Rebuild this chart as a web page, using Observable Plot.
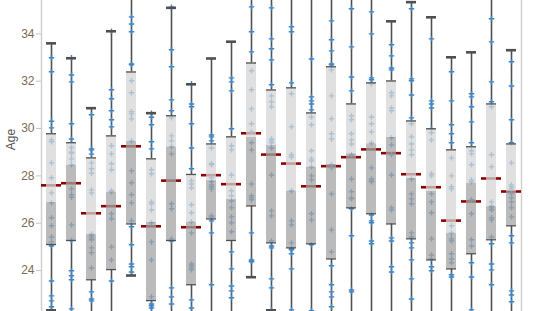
<!DOCTYPE html>
<html><head><meta charset="utf-8">
<script src="https://cdn.jsdelivr.net/npm/d3@7"></script>
<script src="https://cdn.jsdelivr.net/npm/@observablehq/plot@0.6"></script>
<style>body{margin:0;background:#fff;} #chart svg{display:block;}</style>
</head><body><div id="chart"></div>
<script>
const categories = ["1","2","3","4","5","6","7","8","9","10","11","12","13","14","15","16","17","18","19","20","21","22","23","24"];
const whiskerLow  = [22.32,21.6,21.9,21.8,23.79,21.5,21.7,21.6,21.8,21.7,23.72,22.32,21.6,21.5,21.7,21.9,21.8,21.9,21.6,21.8,21.9,21.7,21.8,21.6];
const q1          = [25.10,25.27,23.61,24.04,25.97,22.73,25.27,23.40,26.18,25.27,26.73,25.17,24.96,25.13,24.49,26.65,26.40,25.97,25.34,24.45,24.07,24.71,25.30,25.89];
const median      = [26.87,28.44,25.52,27.30,29.45,26.03,29.21,26.03,27.80,27.00,29.62,29.28,27.35,28.36,28.48,28.93,29.35,29.62,27.89,27.34,25.56,27.68,26.70,27.34];
const q3          = [29.78,29.40,28.76,29.69,32.39,28.72,30.54,28.06,29.35,29.65,32.77,31.63,31.72,30.66,32.61,31.04,31.93,32.01,30.32,29.99,29.10,29.23,31.04,29.35];
const whiskerHigh = [33.60,32.97,30.86,34.11,35.9,30.65,35.10,31.87,32.96,33.67,35.8,36.0,35.9,36.1,35.8,35.9,36.0,34.53,35.34,34.70,33.01,33.22,35.8,33.31];
const mean        = [27.60,27.69,26.42,26.72,29.25,25.87,27.80,25.83,28.03,27.65,29.80,28.90,28.52,27.56,28.41,28.79,29.12,28.96,28.07,27.52,26.11,26.92,27.89,27.34];
const agePoints = [
  [32.99,32.40,30.31,30.03,29.52,29.44,28.55,27.92,27.28,26.86,26.23,25.89,25.42,25.21,25.04,23.56,22.93,22.72,22.47],
  [32.99,32.26,31.97,30.20,29.56,29.20,29.00,28.96,28.72,28.47,27.45,27.20,27.10,25.93,25.27,23.99,23.78,23.61,22.38],
  [30.58,29.14,29.10,28.92,28.55,28.30,28.11,27.41,27.28,25.55,25.47,25.38,25.30,24.96,24.75,24.11,23.10,22.80,22.72],
  [34.11,31.64,31.26,30.75,30.37,30.07,29.27,28.93,28.51,28.26,27.37,27.33,26.40,26.19,25.00,24.45,23.56],
  [34.72,34.42,34.09,32.73,32.69,32.02,31.51,30.71,30.62,30.41,29.48,28.21,27.71,27.20,26.86,26.10,25.85,25.09,24.28,24.16,23.94],
  [30.65,30.48,30.16,29.44,29.14,28.26,28.09,26.90,26.82,26.56,26.02,25.21,24.45,22.89,22.59,22.51,22.42],
  [35.13,33.33,32.61,31.21,30.75,30.45,29.69,29.48,29.23,28.93,26.82,26.61,25.34,25.25,23.27,22.89,22.59],
  [31.89,31.04,30.92,30.20,29.18,28.30,27.79,27.66,27.49,26.78,26.44,26.06,25.59,24.28,24.20,24.11,24.03,22.76,22.42],
  [29.73,29.65,29.48,29.18,28.51,28.47,27.92,27.75,27.62,27.54,27.45,26.31,26.27,26.10,25.59,23.40],
  [32.14,31.97,31.59,29.99,29.27,29.10,28.04,27.37,27.16,26.94,26.65,26.27,26.02,25.64,24.79,24.07,23.35,23.14,22.85],
  [35.14,34.09,33.24,32.44,31.64,30.83,30.20,29.86,29.40,29.10,27.66,27.16,27.07,26.99,25.59,24.45,24.41,24.37],
  [35.10,33.79,33.37,32.90,31.85,31.38,31.13,30.92,29.56,29.48,29.40,29.18,28.04,26.52,26.31,25.25,25.04,24.96,23.65,23.27,22.34],
  [34.30,34.09,31.93,31.47,30.07,28.89,28.80,27.37,26.10,25.93,25.17,24.92,24.88,24.71,24.07,22.34],
  [32.94,31.34,31.17,31.04,30.79,30.49,30.16,29.06,28.72,28.63,28.38,28.00,27.83,26.40,26.14,25.09,22.30],
  [34.55,33.75,33.28,32.73,32.69,32.48,31.38,30.41,29.78,29.56,28.47,28.34,27.24,25.72,24.79,24.20,23.40,23.10,22.89,22.47],
  [35.06,33.45,32.18,31.59,30.54,30.37,29.78,29.52,29.35,28.89,27.87,27.33,27.07,27.03,26.61,25.47,23.18,23.10],
  [34.93,34.00,32.14,32.06,31.89,30.49,30.20,29.86,29.40,28.34,27.87,27.79,27.75,26.35,26.10,26.02,25.25,25.13],
  [33.54,33.07,32.56,32.48,31.51,31.38,30.87,30.75,29.61,29.31,28.89,28.04,26.65,26.56,25.38,25.25,24.16,23.94],
  [35.06,32.10,32.02,31.42,30.45,30.20,29.65,29.35,29.10,28.89,27.87,27.24,27.03,26.82,25.59,25.42,25.17,24.96,24.45,23.65,22.80],
  [33.79,31.17,31.04,30.87,29.99,29.82,29.52,28.09,28.00,27.24,26.90,26.44,25.34,24.66,24.49,24.16,23.99],
  [32.40,31.17,30.16,29.78,29.40,28.76,28.00,27.54,27.45,25.89,25.59,25.34,25.25,24.71,24.49,24.33,23.82,23.73],
  [31.47,31.34,30.92,30.28,29.40,29.06,28.93,28.47,27.83,27.75,26.99,26.40,25.30,25.04,24.33,23.73,22.34],
  [34.64,33.66,31.97,31.13,30.92,28.89,28.38,26.90,26.73,26.65,26.56,26.23,26.14,25.42,25.13,24.28,24.03,23.40],
  [32.82,31.80,30.37,29.40,28.55,27.62,27.54,27.45,27.24,27.07,26.90,26.65,26.27,25.47,25.17,23.14,22.97,22.68]
];
const yTicks = [24, 26, 28, 30, 32, 34];

const boxes = categories.map((c, i) => ({cat: c, lo: whiskerLow[i], q1: q1[i], med: median[i], q3: q3[i], hi: whiskerHigh[i], mean: mean[i]}));
const points = categories.flatMap((c, i) => agePoints[i].map(v => ({cat: c, age: v})));

const chart = Plot.plot({
  width: 550, height: 311,
  marginLeft: 41, marginRight: 29, marginTop: 0, marginBottom: 0,
  style: {fontFamily: "'Liberation Sans', Arial, sans-serif", fontSize: "12px", background: "#fff", overflow: "visible"},
  x: {type: "band", domain: categories, padding: 0, axis: null},
  y: {domain: [22.27, 35.41], axis: null},
  marks: [
    Plot.frame({anchor: "left", stroke: "#d0d0d0", strokeWidth: 1.5}),
    Plot.frame({anchor: "right", stroke: "#d0d0d0", strokeWidth: 1.5}),
    Plot.ruleX(boxes, {x: "cat", y1: "q3", y2: "hi", stroke: "#505050", strokeWidth: 1.6, clip: true}),
    Plot.ruleX(boxes, {x: "cat", y1: "lo", y2: "q1", stroke: "#505050", strokeWidth: 1.6, clip: true}),
    Plot.tickY(boxes, {x: "cat", y: "mean", stroke: "#8b0000", strokeWidth: 2.6}),
    Plot.dot(points, {x: "cat", y: "age", symbol: "plus", r: 1.9, stroke: "#3f84c4", strokeWidth: 1.4, fill: "none", clip: true}),
    Plot.rectY(boxes, {x: "cat", y1: "med", y2: "q3", fill: "#d6d6d6", fillOpacity: 0.75, insetLeft: 5, insetRight: 5, clip: true}),
    Plot.rectY(boxes, {x: "cat", y1: "q1", y2: "med", fill: "#a4a4a4", fillOpacity: 0.75, insetLeft: 5, insetRight: 5, clip: true}),
    Plot.tickY(boxes, {x: "cat", y: "q3", stroke: "#505050", strokeWidth: 1.3, insetLeft: 5, insetRight: 5, clip: true}),
    Plot.tickY(boxes, {x: "cat", y: "q1", stroke: "#505050", strokeWidth: 1.3, insetLeft: 5, insetRight: 5, clip: true}),
    Plot.tickY(boxes, {x: "cat", y: "hi", stroke: "#505050", strokeWidth: 2.6, insetLeft: 5, insetRight: 5, clip: true}),
    Plot.tickY(boxes, {x: "cat", y: "lo", stroke: "#505050", strokeWidth: 2.6, insetLeft: 5, insetRight: 5, clip: true}),
    Plot.axisY({ticks: yTicks, tickSize: 5, text: null, stroke: "#c4c4c4", label: null}),
    Plot.axisY({ticks: yTicks, tickSize: 0, tickPadding: 7, fill: "#7d6a55", label: null, fontSize: 12}),
    Plot.text(["Age"], {frameAnchor: "top-left", dx: -30, dy: 139, rotate: -90, textAnchor: "middle", lineAnchor: "middle", fill: "#555", fontSize: 12})
  ]
});
document.getElementById("chart").appendChild(chart);
</script>
</body></html>
